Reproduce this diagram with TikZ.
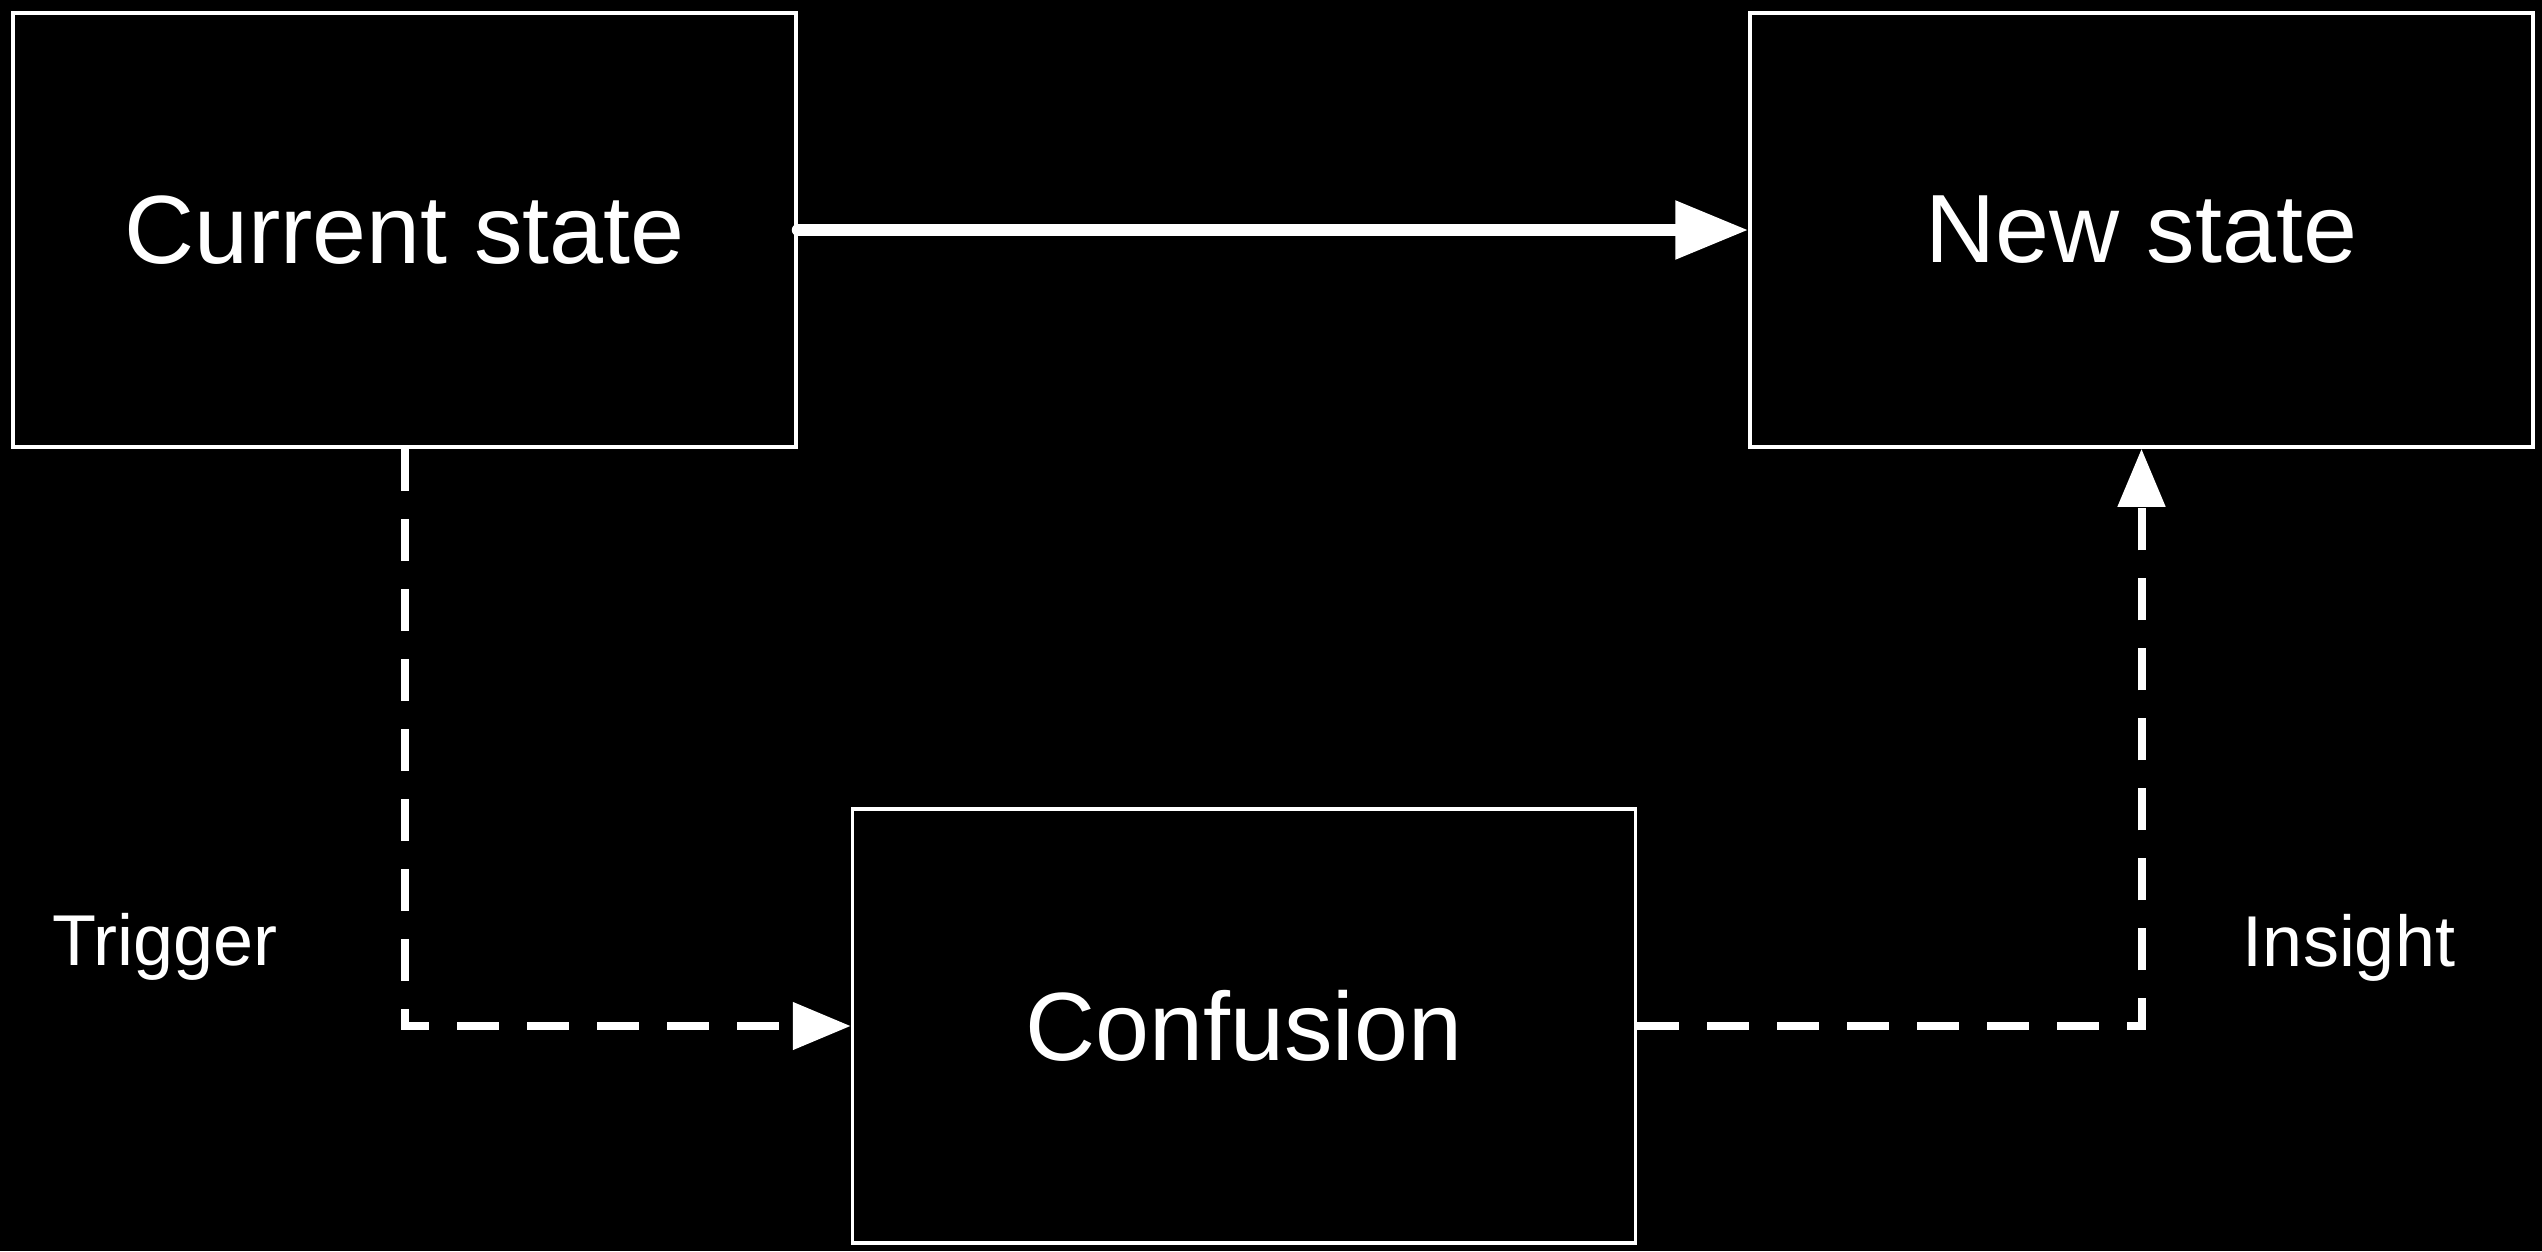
\documentclass[tikz,border=0pt]{standalone}
\usepackage{fontspec}
\setmainfont{Liberation Sans}
\usetikzlibrary{arrows.meta}
\begin{document}
\begin{tikzpicture}[x=1pt,y=-1pt,
  statebox/.style={draw=white,line width=3.5pt,fill=black,text=white,inner sep=0pt,
    minimum width=783pt,minimum height=434pt,font=\fontsize{97}{110}\selectfont},
  lbl/.style={text=white,inner sep=0pt,anchor=base,font=\fontsize{72}{80}\selectfont},
  mainarrow/.style={draw=white,line width=12pt,line cap=round,
    -{Triangle[length=73pt,width=56pt]}},
  dasharrow/.style={draw=white,line width=8pt,dash pattern=on 42pt off 28pt,
    -{Triangle[length=58pt,width=46pt]}}]
\fill[black] (0,0) rectangle (2542,1251);
\useasboundingbox (0,0) rectangle (2542,1251);
\node[statebox] (cur) at (404.5,230) {Current state};
\node[statebox] (new) at (2141.5,230) {New state};
\node[statebox] (conf) at (1244,1026) {Confusion};
\node[lbl] (trig) at (165,965) {Trigger};
\node[lbl] (ins) at (2349,966) {Insight};
\draw[mainarrow] (cur.east) -- (new.west);
\draw[dasharrow] (cur.south) |- (conf.west);
\draw[dasharrow] (conf.east) -| (new.south);
\end{tikzpicture}
\end{document}
